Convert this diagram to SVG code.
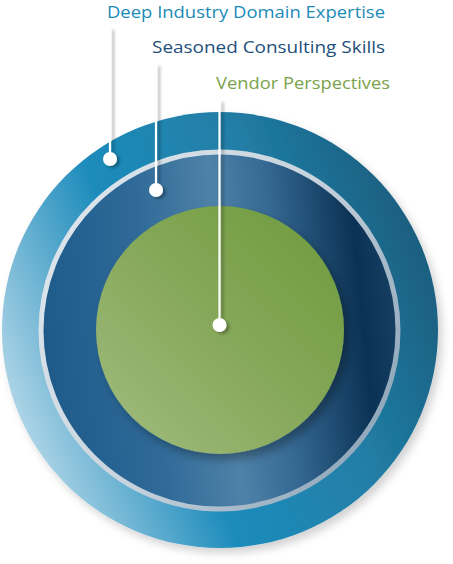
<svg xmlns="http://www.w3.org/2000/svg" width="453" height="564" viewBox="0 0 453 564">
  <style>
    .lbl { font-family: "Open Sans", "Liberation Sans", sans-serif; font-size: 17px; }
    .lead { stroke: #ffffff; stroke-width: 2.2; fill: none; }
    .dot { fill: #ffffff; }
  </style>
  <defs>
    <linearGradient id="gOuter" x1="0" y1="0.75" x2="1" y2="0.35">
      <stop offset="0" stop-color="#c2e0ee"/>
      <stop offset="0.12" stop-color="#8ec4dd"/>
      <stop offset="0.38" stop-color="#1e8cbc"/>
      <stop offset="0.7" stop-color="#217ea6"/>
      <stop offset="1" stop-color="#195d7e"/>
    </linearGradient>
    <linearGradient id="gMid" x1="0" y1="0.55" x2="1" y2="0.45">
      <stop offset="0" stop-color="#1d5a8a"/>
      <stop offset="0.3" stop-color="#2f6a98"/>
      <stop offset="0.52" stop-color="#4f82a8"/>
      <stop offset="0.68" stop-color="#346792"/>
      <stop offset="0.9" stop-color="#0b3254"/>
      <stop offset="1" stop-color="#163f63"/>
    </linearGradient>
    <linearGradient id="gRim" x1="0" y1="0.2" x2="1" y2="0.8">
      <stop offset="0" stop-color="#dfe6ec"/>
      <stop offset="0.5" stop-color="#c7d3dd"/>
      <stop offset="1" stop-color="#8aa3b8"/>
    </linearGradient>
    <linearGradient id="gGreen" x1="0" y1="1" x2="1" y2="0">
      <stop offset="0" stop-color="#a2bc80"/>
      <stop offset="0.5" stop-color="#86a85a"/>
      <stop offset="1" stop-color="#6c9a3a"/>
    </linearGradient>
    <filter id="shOuter" x="-10%" y="-10%" width="125%" height="125%">
      <feDropShadow dx="4" dy="5" stdDeviation="4" flood-color="#000" flood-opacity="0.18"/>
    </filter>
    <filter id="shGreen" x="-15%" y="-15%" width="135%" height="135%">
      <feDropShadow dx="5" dy="6" stdDeviation="5" flood-color="#000" flood-opacity="0.3"/>
    </filter>
    <filter id="shLine" x="-200%" y="-5%" width="600%" height="115%">
      <feDropShadow dx="3" dy="2" stdDeviation="1.5" flood-color="#000" flood-opacity="0.3"/>
    </filter>
  </defs>

  <g id="outer-ring">
    <circle cx="220" cy="330" r="218" fill="url(#gOuter)" filter="url(#shOuter)"/>
  </g>
  <g id="middle-ring">
    <circle cx="219.5" cy="330.5" r="178.5" fill="url(#gMid)" stroke="url(#gRim)" stroke-width="5"/>
  </g>
  <g id="inner-circle">
    <circle cx="220" cy="330" r="124" fill="url(#gGreen)" filter="url(#shGreen)"/>
  </g>

  <g id="connectors" filter="url(#shLine)">
    <line class="lead" x1="110" y1="28" x2="110" y2="159"/>
    <circle class="dot" cx="110" cy="159" r="7"/>
    <line class="lead" x1="156" y1="64" x2="156" y2="190"/>
    <circle class="dot" cx="156" cy="190" r="7"/>
    <line class="lead" x1="219.5" y1="100" x2="219.5" y2="325"/>
    <circle class="dot" cx="219.5" cy="325" r="7"/>
  </g>

  <g id="label-deep">
    <text class="lbl" x="107" y="18" fill="#1a8ab8" textLength="278" lengthAdjust="spacingAndGlyphs">Deep Industry Domain Expertise</text>
  </g>
  <g id="label-seasoned">
    <text class="lbl" x="152" y="53" fill="#1d4f7c" textLength="233" lengthAdjust="spacingAndGlyphs">Seasoned Consulting Skills</text>
  </g>
  <g id="label-vendor">
    <text class="lbl" x="216" y="89" fill="#7aa24a" textLength="174" lengthAdjust="spacingAndGlyphs">Vendor Perspectives</text>
  </g>
</svg>
